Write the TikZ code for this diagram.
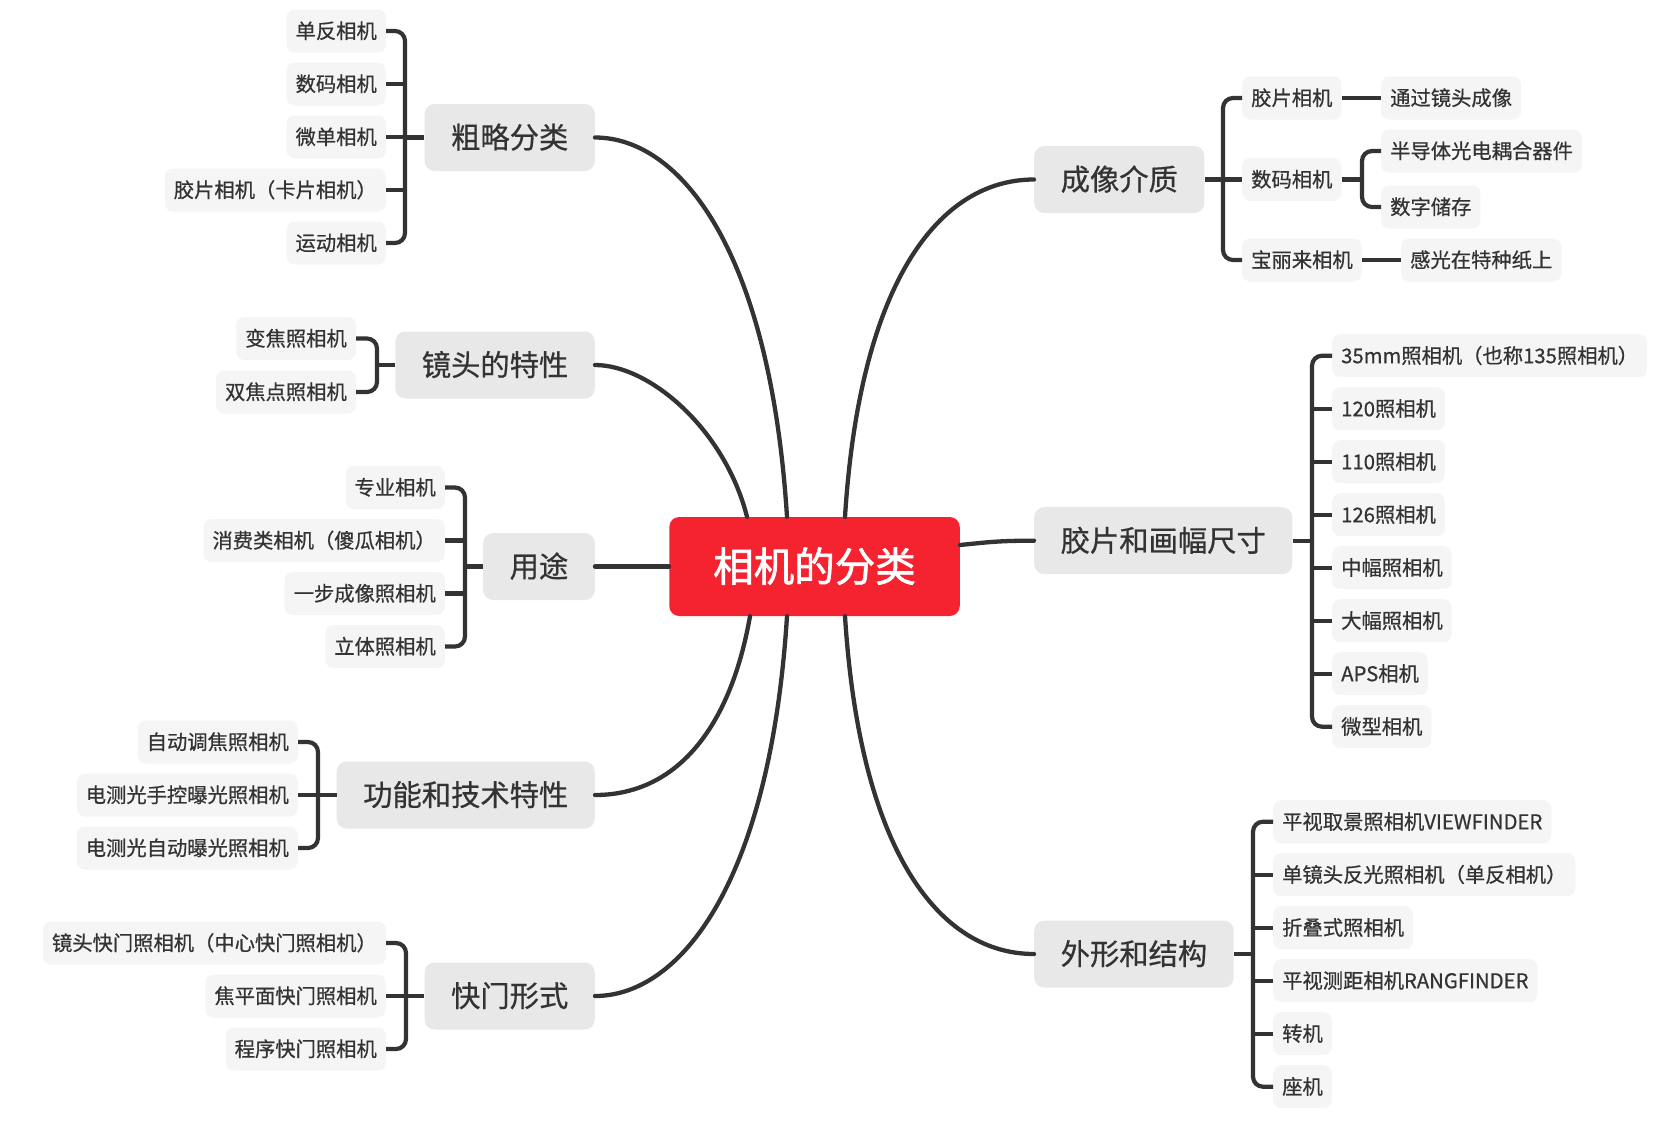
\documentclass[tikz,border=0pt]{standalone}
\usepackage{fontspec}
\setmainfont{Noto Sans CJK SC}[FakeBold=0.6]
\newfontfamily\rootfont{Noto Sans CJK SC}[FakeBold=1.6]
\definecolor{rootred}{HTML}{F52230}
\definecolor{topicgray}{HTML}{E8E8E8}
\definecolor{leafgray}{HTML}{F5F5F5}
\definecolor{inkgray}{HTML}{333333}
\tikzset{
  rootbox/.style={fill=rootred, text=white, rounded corners=10pt, minimum height=99pt, inner xsep=44pt, inner ysep=0pt, text height=32pt, text depth=2pt, font=\rootfont\fontsize{40.5}{48}\selectfont},
  topicbox/.style={fill=topicgray, text=inkgray, rounded corners=10pt, minimum height=67pt, inner xsep=26.5pt, inner ysep=0pt, text height=23pt, text depth=1.5pt, font=\fontsize{29.3}{35}\selectfont},
  leafbox/.style={fill=leafgray, text=inkgray, rounded corners=8pt, minimum height=43pt, inner xsep=9pt, inner ysep=0pt, text height=16pt, text depth=1pt, font=\fontsize{20.3}{24}\selectfont},
  mainline/.style={draw=inkgray, line width=4.3pt, line cap=round},
  brace/.style={draw=inkgray, line width=4.2pt, rounded corners=10pt},
}
\begin{document}
\begin{tikzpicture}[x=1pt,y=-1pt]
\useasboundingbox (0,0) rectangle (1665,1138);
\node[rootbox] (root) at (814.5,566.5) {相机的分类};
% topics, left
\node[topicbox, anchor=east] (cllf) at (595,137.5) {粗略分类};
\node[topicbox, anchor=east] (jttx) at (595,365) {镜头的特性};
\node[topicbox, anchor=east] (yt) at (595,566.5) {用途};
\node[topicbox, anchor=east] (gnjs) at (595,795) {功能和技术特性};
\node[topicbox, anchor=east] (kmxs) at (595,996) {快门形式};
% topics, right
\node[topicbox, anchor=west] (cxjz) at (1034,179.5) {成像介质};
\node[topicbox, anchor=west] (jphf) at (1034,540.7) {胶片和画幅尺寸};
\node[topicbox, anchor=west] (wxjg) at (1034,954) {外形和结构};
% leaves
\foreach \t [count=\i from 0] in {单反相机,数码相机,微单相机,胶片相机（卡片相机）,运动相机}
  \node[leafbox, anchor=east] (cllf-\i) at (386,{31+53*\i}) {\t};
\foreach \t [count=\i from 0] in {变焦照相机,双焦点照相机}
  \node[leafbox, anchor=east] (jttx-\i) at (356,{338.5+53.5*\i}) {\t};
\foreach \t [count=\i from 0] in {专业相机,消费类相机（傻瓜相机）,一步成像照相机,立体照相机}
  \node[leafbox, anchor=east] (yt-\i) at (445,{487.5+53*\i}) {\t};
\foreach \t [count=\i from 0] in {自动调焦照相机,电测光手控曝光照相机,电测光自动曝光照相机}
  \node[leafbox, anchor=east] (gnjs-\i) at (298,{742+53*\i}) {\t};
\foreach \t [count=\i from 0] in {镜头快门照相机（中心快门照相机）,焦平面快门照相机,程序快门照相机}
  \node[leafbox, anchor=east] (kmxs-\i) at (386,{943+53*\i}) {\t};
\node[leafbox, anchor=west] (cxjz-0) at (1242,98) {胶片相机};
\node[leafbox, anchor=west] (cxjz-1) at (1242,179.5) {数码相机};
\node[leafbox, anchor=west] (cxjz-2) at (1242,260) {宝丽来相机};
\node[leafbox, anchor=west] (tgjt) at (1381,98) {通过镜头成像};
\node[leafbox, anchor=west] (bdtg) at (1381,151) {半导体光电耦合器件};
\node[leafbox, anchor=west] (szcc) at (1381,207) {数字储存};
\node[leafbox, anchor=west] (ggzt) at (1401,260) {感光在特种纸上};
\foreach \t [count=\i from 0] in {35mm照相机（也称135照相机）,120照相机,110照相机,126照相机,中幅照相机,大幅照相机,APS相机,微型相机}
  \node[leafbox, anchor=west] (jphf-\i) at (1332,{355.7+53*\i}) {\t};
\foreach \t [count=\i from 0] in {平视取景照相机VIEWFINDER,单镜头反光照相机（单反相机）,折叠式照相机,平视测距相机RANGFINDER,转机,座机}
  \node[leafbox, anchor=west] (wxjg-\i) at (1273,{821.7+53*\i}) {\t};
% root to topics
\draw[mainline] ([xshift=-27.5]root.north) .. controls +(-17,-267) and +(85,0) .. (cllf.east);
\draw[mainline] ([xshift=-67.5]root.north) .. controls +(-22,-87) and +(55,0) .. (jttx.east);
\draw[mainline] (root.west) -- (yt.east);
\draw[mainline] ([xshift=-64.5]root.south) .. controls +(-20,114) and +(80,0) .. (gnjs.east);
\draw[mainline] ([xshift=-27.5]root.south) .. controls +(-17,267) and +(85,0) .. (kmxs.east);
\draw[mainline] ([xshift=30.5]root.north) .. controls +(15,-237) and +(-94,0) .. (cxjz.west);
\draw[mainline] ([yshift=21.5]root.east) .. controls +(30,-3) and +(-35,0) .. (jphf.west);
\draw[mainline] ([xshift=30.5]root.south) .. controls +(15,237) and +(-94,0) .. (wxjg.west);
% braces
\coordinate (cllf-s) at (405,137.5);
\coordinate (jttx-s) at (377,365);
\coordinate (yt-s) at (465,566.5);
\coordinate (gnjs-s) at (318,795);
\coordinate (kmxs-s) at (406,996);
\coordinate (cxjz-s) at (1223,179.5);
\coordinate (smxj-s) at (1362,179.5);
\coordinate (jphf-s) at (1312,540.7);
\coordinate (wxjg-s) at (1253,954);
\draw[brace] (cllf-0.east) -| (cllf-s) |- (cllf-4.east);
\foreach \i in {1,2,3} \draw[brace] (cllf-\i.east) -- (cllf-\i.east -| cllf-s);
\draw[brace] (cllf.west) -- (cllf-s);
\draw[brace] (jttx-0.east) -| (jttx-s) |- (jttx-1.east);
\draw[brace] (jttx.west) -- (jttx-s);
\draw[brace] (yt-0.east) -| (yt-s) |- (yt-3.east);
\foreach \i in {1,2} \draw[brace] (yt-\i.east) -- (yt-\i.east -| yt-s);
\draw[brace] (yt.west) -- (yt-s);
\draw[brace] (gnjs-0.east) -| (gnjs-s) |- (gnjs-2.east);
\draw[brace] (gnjs-1.east) -- (gnjs.west);
\draw[brace] (kmxs-0.east) -| (kmxs-s) |- (kmxs-2.east);
\draw[brace] (kmxs-1.east) -- (kmxs.west);
\draw[brace] (cxjz-0.west) -| (cxjz-s) |- (cxjz-2.west);
\draw[brace] (cxjz.east) -- (cxjz-1.west);
\draw[brace] (bdtg.west) -| (smxj-s) |- (szcc.west);
\draw[brace] (cxjz-1.east) -- (smxj-s);
\draw[brace] (cxjz-0.east) -- (tgjt.west);
\draw[brace] (cxjz-2.east) -- (ggzt.west);
\draw[brace] (jphf-0.west) -| (jphf-s) |- (jphf-7.west);
\foreach \i in {1,...,6} \draw[brace] (jphf-\i.west) -- (jphf-\i.west -| jphf-s);
\draw[brace] (jphf.east) -- (jphf-s);
\draw[brace] (wxjg-0.west) -| (wxjg-s) |- (wxjg-5.west);
\foreach \i in {1,...,4} \draw[brace] (wxjg-\i.west) -- (wxjg-\i.west -| wxjg-s);
\draw[brace] (wxjg.east) -- (wxjg-s);
\end{tikzpicture}
\end{document}
